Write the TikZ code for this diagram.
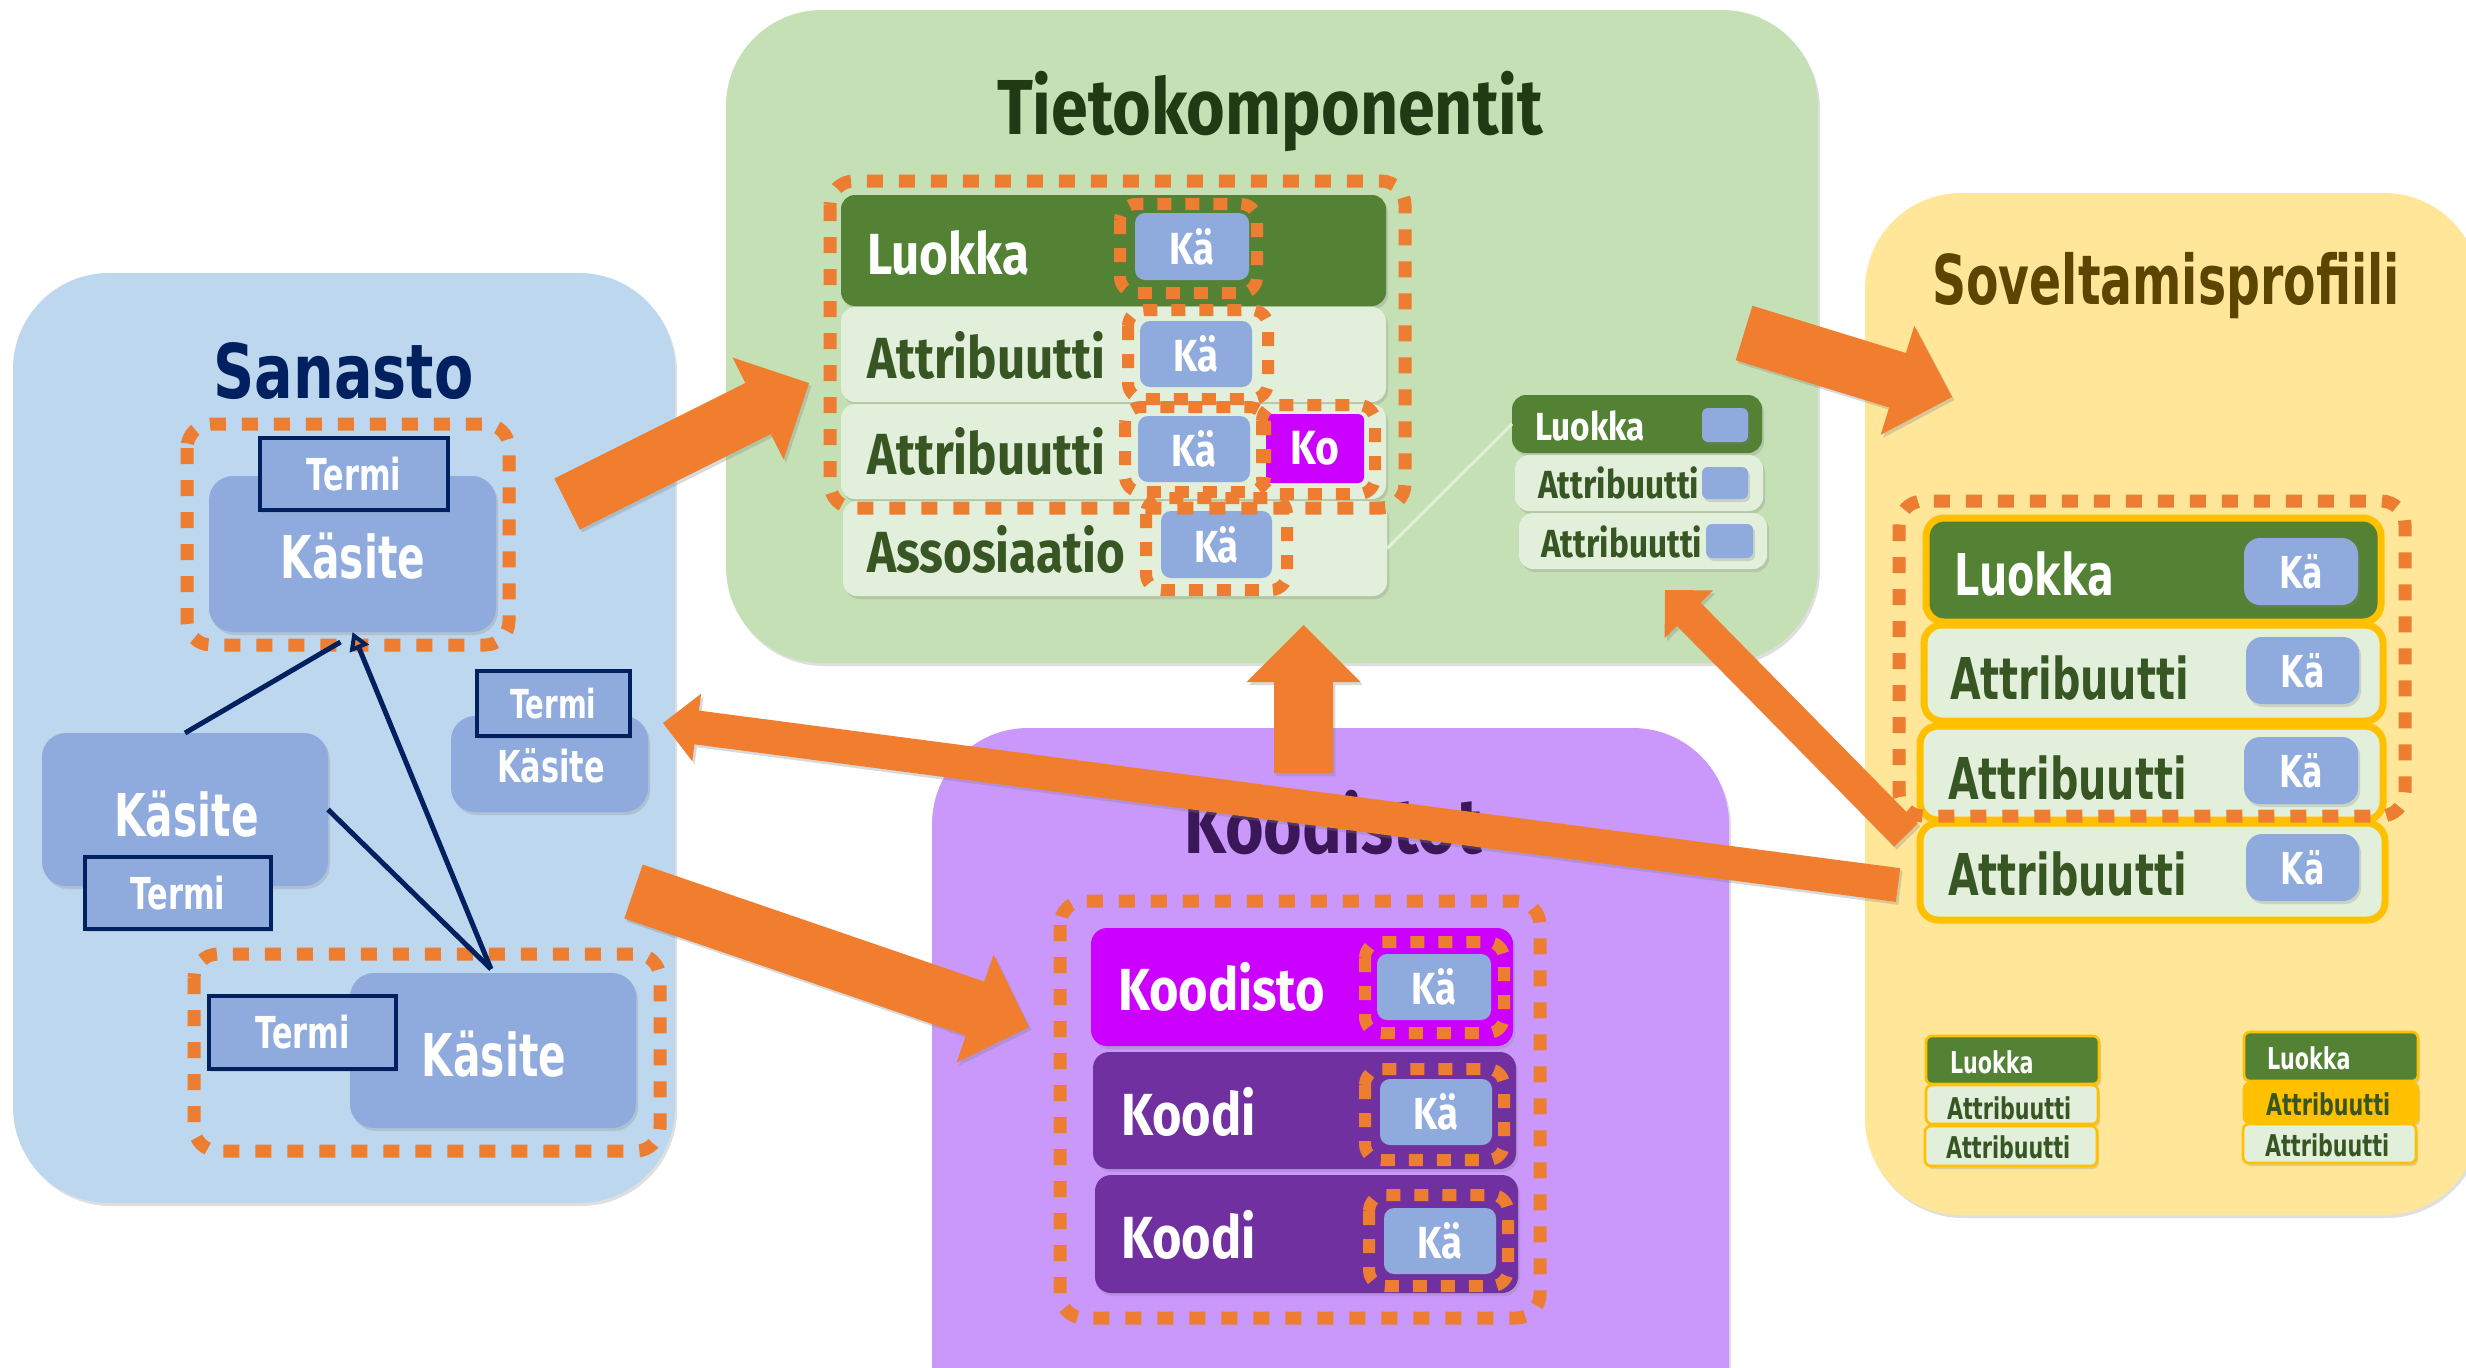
\documentclass[tikz,border=0pt]{standalone}
\usepackage{fontspec}
\usetikzlibrary{calc,shadows,arrows.meta}
\newfontfamily\wfont[FakeStretch=0.69]{DejaVu Sans}
\newfontfamily\cfont[FakeStretch=0.85]{Fira Sans}
\newcommand\wf[1]{\wfont\bfseries\fontsize{#1pt}{#1pt}\selectfont}
\newcommand\cf[1]{\cfont\bfseries\fontsize{#1pt}{#1pt}\selectfont}
\definecolor{sanbg}{HTML}{BDD7EE}
\definecolor{kasite}{HTML}{8FAADC}
\definecolor{navy}{HTML}{002060}
\definecolor{tietobg}{HTML}{C5E0B4}
\definecolor{luokka}{HTML}{548235}
\definecolor{attr}{HTML}{E2EFDA}
\definecolor{attrtxt}{HTML}{375623}
\definecolor{tietotitle}{HTML}{213A13}
\definecolor{koodbg}{HTML}{CA97FA}
\definecolor{koodisto}{HTML}{CC00FF}
\definecolor{koodi}{HTML}{7030A0}
\definecolor{koodtitle}{HTML}{3B1758}
\definecolor{sovbg}{HTML}{FFE699}
\definecolor{sovtitle}{HTML}{5C4500}
\definecolor{gold}{HTML}{FFC000}
\definecolor{orng}{HTML}{ED7D31}
\definecolor{arrw}{HTML}{F07E2E}
% box from (x1,y1) to (x2,y2) in pixel units
\newcommand\bx[7]{\node[#1, anchor=north west, minimum width={(#4-#2)*0.5pt}, minimum height={(#5-#3)*0.5pt}] (#6) at (#2,#3) {#7};}
% block arrow: tail, tip, shaft half width, head half width, head length
\newcommand\blockarrow[5]{%
  \coordinate (bah) at ($(#2)!#5!(#1)$);
  \fill[arrowfill] ($(#1)!#3!90:(#2)$) -- ($(bah)!#3!-90:(#1)$) -- ($(bah)!#4!-90:(#1)$) -- (#2) -- ($(bah)!#4!90:(#1)$) -- ($(bah)!#3!90:(#1)$) -- ($(#1)!#3!-90:(#2)$) -- cycle;}
\tikzset{
  every node/.style={inner sep=0pt, outer sep=0pt},
  shad/.style={drop shadow={opacity=0.25, shadow xshift=1pt, shadow yshift=-1.5pt}},
  panel/.style={rounded corners=48pt, shad},
  kas/.style={fill=kasite, rounded corners=12pt, shad},
  term/.style={fill=kasite, draw=navy, line width=2pt, text=white, shad},
  wlab/.style={text=white},
  dashring/.style={draw=orng, line width=6.5pt, dash pattern=on 8pt off 8pt, rounded corners=12pt},
  smallring/.style={draw=orng, line width=6pt, dash pattern=on 7pt off 7pt, rounded corners=8pt},
  lbar/.style={fill=luokka, rounded corners=7pt, shad},
  arow/.style={fill=attr, rounded corners=7pt, shad},
  kabox/.style={fill=kasite, rounded corners=5pt, text=white, font=\cf{22.5}},
  kobox/.style={fill=koodisto, rounded corners=3pt, text=white, font=\cf{24}},
  sq/.style={fill=kasite, rounded corners=3pt, shad},
  kbar/.style={rounded corners=8pt, shad},
  sovl/.style={fill=luokka, draw=gold, line width=3.5pt, rounded corners=9pt, shad},
  sova/.style={fill=attr, draw=gold, line width=3.5pt, rounded corners=9pt, shad},
  sovka/.style={fill=kasite, rounded corners=8pt, text=white, font=\wf{22}, shad},
  stl/.style={fill=luokka, draw=gold, line width=1.3pt, rounded corners=3pt, shad},
  sta/.style={fill=attr, draw=gold, line width=1.3pt, rounded corners=3pt, shad},
  navyline/.style={draw=navy, line width=2.5pt},
  lightline/.style={draw=attr, line width=1.5pt},
  arrowfill/.style={fill=arrw, drop shadow={opacity=0.3, shadow xshift=1.2pt, shadow yshift=-1.5pt}},
}
\begin{document}
\begin{tikzpicture}[x=0.5pt, y=-0.5pt]
\useasboundingbox (0,0) rectangle (2466,1367);

% ---------- panels ----------
\bx{panel, fill=sanbg}{13}{273}{675}{1203}{sanasto}{}
\bx{panel, fill=tietobg}{726}{10}{1818}{663}{tieto}{}
\bx{panel, fill=koodbg}{932}{728}{1729}{1480}{kood}{}
\bx{panel, fill=sovbg}{1865}{193}{2480}{1215}{sov}{}

% ---------- Sanasto ----------
\node[anchor=base, text=navy, font=\wf{37.7}] (sanTitle) at (343.5,398) {\scalebox{1.1}[1]{Sanasto}};
\bx{kas}{209}{476}{496}{632}{kT}{}
\bx{term, font=\wf{22}}{260}{438}{448}{510}{tT}{Termi}
\node[wlab, anchor=base, font=\wf{29.5}] (kTl) at (353,578) {Käsite};

\bx{kas}{42}{733}{328}{886}{kL}{}
\node[wlab, anchor=base, font=\wf{29.5}] (kLl) at (186.5,836) {Käsite};
\bx{term, font=\wf{22}}{85}{857}{271}{929}{tL}{Termi}

\bx{kas}{451}{716}{648}{812}{kR}{}
\node[wlab, anchor=base, font=\wf{22}] (kRl) at (551,782) {Käsite};
\bx{term, font=\wf{20}}{477}{671}{630}{736}{tR}{Termi}

\bx{kas}{350}{973}{636}{1128}{kB}{}
\node[wlab, anchor=base, font=\wf{29.5}] (kBl) at (494,1076) {Käsite};
\bx{term, font=\wf{22}}{209}{996}{396}{1069}{tB}{Termi}

\draw[dashring] (187,424) rectangle (509,645);
\draw[dashring] (194,954) rectangle (660,1151);

\coordinate (junc) at ($(kB.north)+(-2,-4)$);
\draw[navyline] (kL.north) -- ($(kT.south)+(-12,10)$);
\draw[navyline] (kL.east) -- (junc);
\draw[navyline, -{Triangle[open, length=9pt, width=10pt, line width=2pt]}] (junc) -- (kT.south);

% ---------- Tietokomponentit ----------
\node[anchor=base, text=tietotitle, font=\cf{39}] (tietoTitle) at (1270,134) {Tietokomponentit};
\bx{lbar}{841}{195}{1386}{306}{tLk}{}
\bx{arow}{841}{307}{1386}{402}{tA1}{}
\bx{arow}{841}{404}{1386}{499}{tA2}{}
\bx{arow}{843}{501}{1387}{596}{tAs}{}
\node[wlab, anchor=base west, font=\cf{29}] (tLkl) at (867,274) {Luokka};
\node[text=attrtxt, anchor=base west, font=\cf{29}] (tA1l) at (867,378) {Attribuutti};
\node[text=attrtxt, anchor=base west, font=\cf{29}] (tA2l) at (867,474) {Attribuutti};
\node[text=attrtxt, anchor=base west, font=\cf{29}] (tAsl) at (867,572) {Assosiaatio};
\bx{kabox}{1135}{213}{1249}{280}{kaL}{Kä}
\bx{kabox}{1140}{321}{1252}{387}{kaA1}{Kä}
\bx{kabox}{1138}{416}{1250}{482}{kaA2}{Kä}
\bx{kobox}{1266}{414}{1364}{483}{koA2}{Ko}
\bx{kabox}{1161}{511}{1272}{578}{kaAs}{Kä}
\draw[dashring] (830,181) rectangle (1405,508);
\draw[smallring] (1120,204) rectangle (1257,293);
\draw[smallring] (1128,310) rectangle (1268,399);
\draw[smallring] (1125,407) rectangle (1265,492);
\draw[smallring] (1262,405) rectangle (1375,494);
\draw[smallring] (1146,498) rectangle (1287,590);

\bx{lbar}{1512}{395}{1762}{453}{sL}{}
\bx{arow}{1515}{455}{1763}{511}{sA1}{}
\bx{arow}{1519}{513}{1767}{569}{sA2}{}
\bx{sq}{1702}{408}{1748}{442}{sq1}{}
\bx{sq}{1702}{467}{1748}{499}{sq2}{}
\bx{sq}{1706}{524}{1753}{558}{sq3}{}
\node[wlab, anchor=base west, font=\cf{19.6}] (sLl) at (1535,440) {Luokka};
\node[text=attrtxt, anchor=base west, font=\cf{19.6}] (sA1l) at (1538,498) {Attribuutti};
\node[text=attrtxt, anchor=base west, font=\cf{19.6}] (sA2l) at (1541,557) {Attribuutti};
\draw[lightline] (tAs.east) -- (sL.west);

% ---------- Koodistot ----------
\node[anchor=base, text=koodtitle, font=\cf{39}] (koodTitle) at (1333,853) {Koodistot};
\bx{kbar, fill=koodisto}{1091}{928}{1513}{1046}{kdo}{}
\bx{kbar, fill=koodi}{1093}{1052}{1516}{1169}{kd1}{}
\bx{kbar, fill=koodi}{1095}{1175}{1518}{1293}{kd2}{}
\node[wlab, anchor=base west, font=\cf{29.7}] (kdol) at (1118,1010) {Koodisto};
\node[wlab, anchor=base west, font=\cf{29.7}] (kd1l) at (1121,1135) {Koodi};
\node[wlab, anchor=base west, font=\cf{29.7}] (kd2l) at (1121,1258) {Koodi};
\bx{kabox}{1377}{954}{1491}{1020}{kak0}{Kä}
\bx{kabox}{1380}{1079}{1492}{1145}{kak1}{Kä}
\bx{kabox}{1384}{1208}{1496}{1274}{kak2}{Kä}
\draw[smallring] (1365,942) rectangle (1504,1033);
\draw[smallring] (1365,1069) rectangle (1504,1160);
\draw[smallring] (1369,1195) rectangle (1508,1286);
\draw[dashring] (1060,901) rectangle (1540,1318);

% ---------- Soveltamisprofiili ----------
\node[anchor=base, text=sovtitle, font=\wf{34.3}] (sovTitle) at (2166,304) {Soveltamisprofiili};
\bx{sovl}{1926}{518}{2381}{622}{vL}{}
\bx{sova}{1924}{625}{2383}{721}{vA1}{}
\bx{sova}{1920}{726}{2383}{820}{vA2}{}
\bx{sova}{1920}{823}{2385}{920}{vA3}{}
\node[wlab, anchor=base west, font=\wf{28.8}] (vLl) at (1954,595) {Luokka};
\node[text=attrtxt, anchor=base west, font=\wf{28.8}] (vA1l) at (1950,699) {Attribuutti};
\node[text=attrtxt, anchor=base west, font=\wf{28.8}] (vA2l) at (1948,799.5) {Attribuutti};
\node[text=attrtxt, anchor=base west, font=\wf{28.8}] (vA3l) at (1948,895) {Attribuutti};
\bx{sovka}{2244}{538}{2358}{605}{vk0}{Kä}
\bx{sovka}{2246}{637}{2359}{704}{vk1}{Kä}
\bx{sovka}{2244}{737}{2358}{804}{vk2}{Kä}
\bx{sovka}{2246}{834}{2359}{901}{vk3}{Kä}
\draw[dashring] (1899,501) rectangle (2405,816);

\bx{stl}{1926}{1036}{2099}{1084}{pL}{}
\bx{sta}{1926}{1085}{2098}{1124}{pA1}{}
\bx{sta}{1925}{1126}{2097}{1166}{pA2}{}
\node[wlab, anchor=base west, font=\wf{15}] (pLl) at (1950,1073) {Luokka};
\node[text=attrtxt, anchor=base west, font=\wf{15}] (pA1l) at (1947,1119) {Attribuutti};
\node[text=attrtxt, anchor=base west, font=\wf{15}] (pA2l) at (1946,1158) {Attribuutti};
\bx{stl}{2244}{1032}{2418}{1081}{qL}{}
\bx{sta, fill=gold}{2244}{1083}{2418}{1123}{qA1}{}
\bx{sta}{2243}{1124}{2416}{1163}{qA2}{}
\node[wlab, anchor=base west, font=\wf{15}] (qLl) at (2267,1069) {Luokka};
\node[text=attrtxt, anchor=base west, font=\wf{15}] (qA1l) at (2266,1115) {Attribuutti};
\node[text=attrtxt, anchor=base west, font=\wf{15}] (qA2l) at (2265,1156) {Attribuutti};

% ---------- arrows ----------
\coordinate (a1t) at (567,504);   \coordinate (a1h) at (809,383);
\coordinate (a2t) at (1744,333);  \coordinate (a2h) at (1952,397);
\coordinate (a3t) at (1303.5,773);\coordinate (a3h) at (1303.5,625);
\coordinate (a4t) at (1906,835);  \coordinate (a4h) at (1665,590);
\coordinate (a5t) at (1898,885);  \coordinate (a5h) at (663,723);
\coordinate (a6t) at (633.5,891.5); \coordinate (a6h) at (1029,1027);
\blockarrow{a1t}{a1h}{14.25pt}{28.5pt}{28.5pt}
\blockarrow{a2t}{a2h}{14.25pt}{28.5pt}{28.5pt}
\blockarrow{a3t}{a3h}{14.75pt}{28.5pt}{28.5pt}
\blockarrow{a4t}{a4h}{8.25pt}{17pt}{17pt}
\blockarrow{a5t}{a5h}{8.5pt}{17pt}{17pt}
\blockarrow{a6t}{a6h}{14.25pt}{28.5pt}{28.5pt}
\end{tikzpicture}
\end{document}
